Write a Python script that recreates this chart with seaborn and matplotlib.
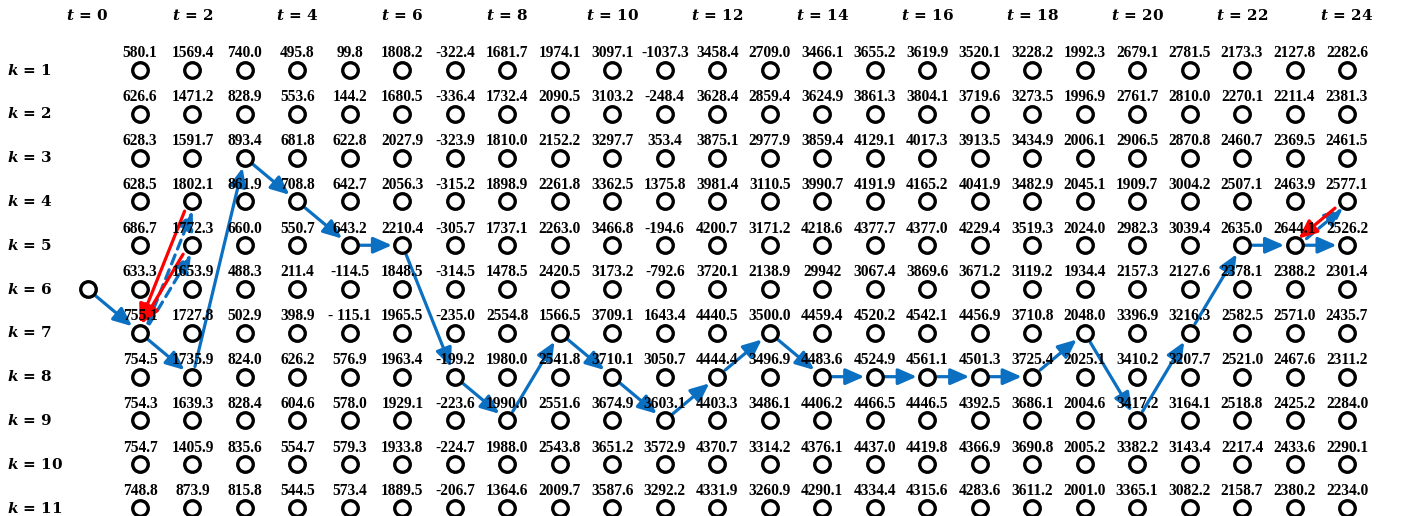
import numpy as np
import pandas as pd
import matplotlib
matplotlib.use("Agg")
import matplotlib.pyplot as plt
from matplotlib import transforms
import seaborn as sns

# ---------------- data ----------------
t_steps = list(range(1, 25))
k_levels = list(range(1, 12))

v_k1 = [580.1, 1569.4, 740.0, 495.8, 99.8, 1808.2, -322.4, 1681.7, 1974.1, 3097.1, -1037.3, 3458.4,
        2709.0, 3466.1, 3655.2, 3619.9, 3520.1, 3228.2, 1992.3, 2679.1, 2781.5, 2173.3, 2127.8, 2282.6]
v_k2 = [626.6, 1471.2, 828.9, 553.6, 144.2, 1680.5, -336.4, 1732.4, 2090.5, 3103.2, -248.4, 3628.4,
        2859.4, 3624.9, 3861.3, 3804.1, 3719.6, 3273.5, 1996.9, 2761.7, 2810.0, 2270.1, 2211.4, 2381.3]
v_k3 = [628.3, 1591.7, 893.4, 681.8, 622.8, 2027.9, -323.9, 1810.0, 2152.2, 3297.7, 353.4, 3875.1,
        2977.9, 3859.4, 4129.1, 4017.3, 3913.5, 3434.9, 2006.1, 2906.5, 2870.8, 2460.7, 2369.5, 2461.5]
v_k4 = [628.5, 1802.1, 861.9, 708.8, 642.7, 2056.3, -315.2, 1898.9, 2261.8, 3362.5, 1375.8, 3981.4,
        3110.5, 3990.7, 4191.9, 4165.2, 4041.9, 3482.9, 2045.1, 1909.7, 3004.2, 2507.1, 2463.9, 2577.1]
v_k5 = [686.7, 1772.3, 660.0, 550.7, 643.2, 2210.4, -305.7, 1737.1, 2263.0, 3466.8, -194.6, 4200.7,
        3171.2, 4218.6, 4377.7, 4377.0, 4229.4, 3519.3, 2024.0, 2982.3, 3039.4, 2635.0, 2644.1, 2526.2]
v_k6 = [633.3, 1653.9, 488.3, 211.4, -114.5, 1848.5, -314.5, 1478.5, 2420.5, 3173.2, -792.6, 3720.1,
        2138.9, 2994.2, 3067.4, 3869.6, 3671.2, 3119.2, 1934.4, 2157.3, 2127.6, 2378.1, 2388.2, 2301.4]
v_k7 = [755.1, 1727.8, 502.9, 398.9, -115.1, 1965.5, -235.0, 2554.8, 1566.5, 3709.1, 1643.4, 4440.5,
        3500.0, 4459.4, 4520.2, 4542.1, 4456.9, 3710.8, 2048.0, 3396.9, 3216.3, 2582.5, 2571.0, 2435.7]
v_k8 = [754.5, 1735.9, 824.0, 626.2, 576.9, 1963.4, -199.2, 1980.0, 2541.8, 3710.1, 3050.7, 4444.4,
        3496.9, 4483.6, 4524.9, 4561.1, 4501.3, 3725.4, 2025.1, 3410.2, 3207.7, 2521.0, 2467.6, 2311.2]
v_k9 = [754.3, 1639.3, 828.4, 604.6, 578.0, 1929.1, -223.6, 1990.0, 2551.6, 3674.9, 3603.1, 4403.3,
        3486.1, 4406.2, 4466.5, 4446.5, 4392.5, 3686.1, 2004.6, 3417.2, 3164.1, 2518.8, 2425.2, 2284.0]
v_k10 = [754.7, 1405.9, 835.6, 554.7, 579.3, 1933.8, -224.7, 1988.0, 2543.8, 3651.2, 3572.9, 4370.7,
         3314.2, 4376.1, 4437.0, 4419.8, 4366.9, 3690.8, 2005.2, 3382.2, 3143.4, 2217.4, 2433.6, 2290.1]
v_k11 = [748.8, 873.9, 815.8, 544.5, 573.4, 1889.5, -206.7, 1364.6, 2009.7, 3587.6, 3292.2, 4331.9,
         3260.9, 4290.1, 4334.4, 4315.6, 4283.6, 3611.2, 2001.0, 3365.1, 3082.2, 2158.7, 2380.2, 2234.0]
values = [v_k1, v_k2, v_k3, v_k4, v_k5, v_k6, v_k7, v_k8, v_k9, v_k10, v_k11]

# labels printed differently in the original figure
label_override = {(6, 14): "29942", (7, 5): "- 115.1"}

start_t, start_k = 0, 6

# optimal path (blue solid arrows)
path_t = list(range(0, 25))
path_k = [6, 7, 8, 3, 4, 5, 5, 8, 9, 7, 8, 9, 8, 7, 8, 8, 8, 8, 8, 7, 9, 7, 5, 5, 5]

# tentative moves (blue dashed) and their rejections (red)
trial_from_t = [1, 1, 23]
trial_from_k = [7, 7, 5]
trial_to_t = [2, 2, 24]
trial_to_k = [4, 5, 4]

top_label_t = list(range(0, 25, 2))

# ---------------- style ----------------
sns.set_theme(style="white")
plt.rcParams["font.family"] = ["Liberation Serif", "DejaVu Serif"]
plt.rcParams["mathtext.fontset"] = "dejavuserif"
plt.rcParams["text.color"] = "black"

BLUE = "#0B6FC2"
RED = "#FF0000"

fig = plt.figure(figsize=(14.04, 5.16), dpi=100)
ax = fig.add_axes([0, 0, 1, 1])

nodes = pd.DataFrame(
    [(t, k) for k in k_levels for t in t_steps] + [(start_t, start_k)],
    columns=["t", "k"],
)
sns.scatterplot(data=nodes, x="t", y="k", ax=ax, s=125, marker="o",
                color="white", edgecolor="black", linewidth=2.4,
                zorder=5, legend=False)

ax.set_xlim(-1.668, 25.086)
ax.set_ylim(11.18, -0.598)
ax.axis("off")

# value labels
for k, row in zip(k_levels, values):
    for t, v in zip(t_steps, row):
        txt = label_override.get((k, t), f"{v:.1f}")
        ax.annotate(txt, (t, k), xytext=(0, 12), textcoords="offset points",
                    ha="center", va="center", fontsize=11.2, fontweight="bold",
                    color="black", zorder=6)


def arrow(t0, k0, t1, k1, color, ls="-", dx=0.0):
    tr = transforms.offset_copy(ax.transData, fig=fig, x=dx, y=0, units="dots")
    ax.annotate("", xy=(t1, k1), xytext=(t0, k0), xycoords=tr, textcoords=tr,
                arrowprops=dict(arrowstyle="-|>,head_length=0.8,head_width=0.35",
                                color=color, lw=2.3, linestyle=ls,
                                shrinkA=7.5, shrinkB=7.5, mutation_scale=14),
                zorder=4)


for i in range(len(path_t) - 1):
    arrow(path_t[i], path_k[i], path_t[i + 1], path_k[i + 1], BLUE)

for a, b, c, d in zip(trial_from_t, trial_from_k, trial_to_t, trial_to_k):
    arrow(a, b, c, d, BLUE, ls=(0, (3, 2)), dx=4)
    arrow(c, d, a, b, RED, dx=-4)

# row labels
row_tr = transforms.blended_transform_factory(ax.transAxes, ax.transData)
for k in k_levels:
    ax.text(0.005, k, rf"$\mathbfit{{k}}\,\mathbf{{=}}\,\mathbf{{{k}}}$", transform=row_tr,
            ha="left", va="center", fontsize=11, color="black")

# column labels
col_tr = transforms.blended_transform_factory(ax.transData, ax.transAxes)
for t in top_label_t:
    ax.text(t, 1 - 15 / 516, rf"$\mathbfit{{t}}\,\mathbf{{=}}\,\mathbf{{{t}}}$", transform=col_tr,
            ha="center", va="center", fontsize=11, color="black")

fig.savefig("out.png", dpi=100)
